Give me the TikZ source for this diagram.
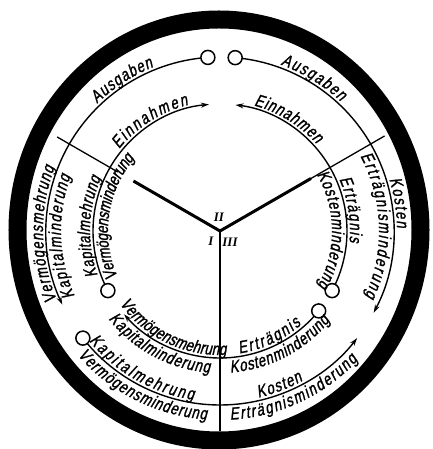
\documentclass[tikz,border=0pt]{standalone}
\usepackage{fontspec}
\setmainfont{Liberation Sans}
\newfontfamily\arcfamily{Liberation Sans}[FakeStretch=0.76, FakeSlant=0.18, FakeBold=1.2]
\newfontfamily\numfont{Liberation Serif}
\usepackage{tikz}
\usetikzlibrary{
  arrows.meta,
  decorations.text,
  backgrounds
}
\newcommand\arcfont{\arcfamily\fontsize{17.5}{20}\selectfont}
\tikzset{
  band/.style={draw=black, line width=18bp},
  conn/.style={line width=1.4bp, -{Stealth[length=8bp, width=5bp]}},
  endcircle/.style={circle, draw, line width=1.5bp, fill=white, minimum size=14bp, inner sep=0pt},
  spokethick/.style={line width=3bp},
  spokethin/.style={line width=1.3bp},
  numlbl/.style={font=\numfont\bfseries\itshape\fontsize{13}{14}\selectfont, inner sep=0pt},
}
\begin{document}
\begin{tikzpicture}[x=1bp, y=1bp]
  \useasboundingbox (-220,-218) rectangle (212,231);

  % Outer black ring
  \draw[band] (-1,1) ellipse [x radius=201.5, y radius=210.5];

  % Hub and the three spokes
  \coordinate (hub) at (0,0);
  \coordinate (sLa) at (150:100);
  \coordinate (sLb) at (150:118);
  \coordinate (sLc) at (150:188);
  \coordinate (sRa) at (30:105);
  \coordinate (sRb) at (30:190);
  \coordinate (sB)  at (270:200);

  % Open circles where the flows start
  \node[endcircle] (cTL) at (94:174) {};
  \node[endcircle] (cTR) at (85:174) {};
  \node[endcircle] (cL)  at (208:127) {};
  \node[endcircle] (cR)  at (-28:127) {};
  \node[endcircle] (cBR) at (-39:127) {};
  \node[endcircle] (cBL) at (218:174) {};

  \begin{scope}[on background layer]
    \draw[spokethick] (hub) -- (sLa);
    \draw[spokethin]  (sLb) -- (sLc);
    \draw[spokethick] (hub) -- (sRa);
    \draw[spokethin]  (sRa) -- (sRb);
    \draw[line width=2bp] (hub) -- (sB);

    % Flow arcs: outer ring 174, inner ring 127
    \draw[conn] (cTL) arc[start angle=94,  end angle=205,  radius=174] coordinate (tipL);
    \draw[conn] (cTR) arc[start angle=85,  end angle=-28,  radius=174] coordinate (tipR);
    \draw[conn] (cL)  arc[start angle=208, end angle=95,   radius=127] coordinate (tipTL);
    \draw[conn] (cR)  arc[start angle=-28, end angle=83,   radius=127] coordinate (tipTR);
    \draw[conn] (cBR) arc[start angle=-39, end angle=-139, radius=127] coordinate (tipBL);
    \draw[conn] (cBL) arc[start angle=218, end angle=322,  radius=174] coordinate (tipBR);
  \end{scope}

  % Labels along the arcs: radius / from / to (reading order) / raise / text
  \foreach \r/\a/\b/\h/\word in {
    174/203/159/3/Vermögensmehrung,
    174/204/160/-15/Kapitalminderung,
    127/200/156/3/Kapitalmehrung,
    127/204/140/-15/Vermögensminderung,
    174/134/112/3/Ausgaben,
    127/141/104/3/Einnahmen,
    174/70/47/3/Ausgaben,
    127/75/42/3/Einnahmen,
    174/17/1/3/Kosten,
    174/28/-24/-15/Erträgnisminderung,
    127/23.5/-5/3/Erträgnis,
    127/30/-29/-15/Kostenminderung,
    127/216/273/3/Vermögensmehrung,
    127/218/266/-15/Kapitalminderung,
    127/279/311/3/Erträgnis,
    127/274/321/-15/Kostenminderung,
    174/220/261/3/Kapitalmehrung,
    174/221/266/-15/Vermögensminderung,
    174/283/299/3/Kosten,
    174/273/317/-15/Erträgnisminderung%
  }{
    \path[decorate, decoration={text along path, text/.expanded={|\noexpand\arcfont|\word},
      raise=\h bp, text align=fit to path}]
      (\a:\r) arc[start angle=\a, end angle=\b, radius=\r];
  }

  % Sector numbers
  \node[numlbl] (nII)  at (-1,14)  {II};
  \node[numlbl] (nI)   at (-9,-10) {I};
  \node[numlbl] (nIII) at (10,-11) {III};
\end{tikzpicture}
\end{document}
